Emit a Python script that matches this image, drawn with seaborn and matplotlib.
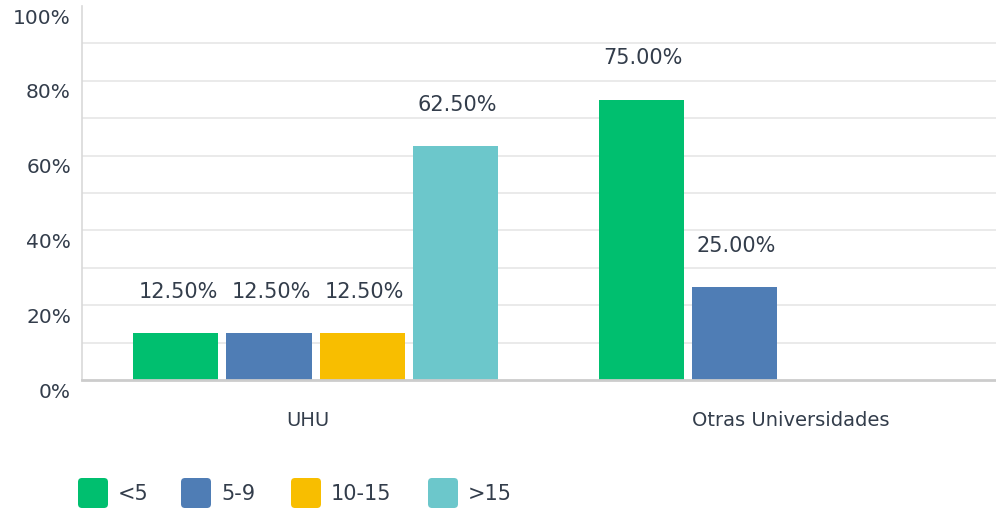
import matplotlib
matplotlib.use("Agg")
import matplotlib.pyplot as plt
import matplotlib.transforms as mtransforms
from matplotlib.patches import FancyBboxPatch
import seaborn as sns
import pandas as pd

categories = ["UHU", "UHU", "UHU", "UHU", "Otras Universidades", "Otras Universidades"]
groups = ["<5", "5-9", "10-15", ">15", "<5", "5-9"]
values = [12.5, 12.5, 12.5, 62.5, 75.0, 25.0]
hue_levels = ["<5", "5-9", "10-15", ">15"]
cat_levels = ["UHU", "Otras Universidades"]
colors = ["#00BF6F", "#4F7DB5", "#F8BE00", "#6CC7CB"]
yticks = [0, 20, 40, 60, 80, 100]
ytick_labels = ["0%", "20%", "40%", "60%", "80%", "100%"]

df = pd.DataFrame({"cat": categories, "grp": groups, "val": values})

sns.set_theme(style="white")
plt.rcParams["font.family"] = ["DejaVu Sans"]
text_color = "#333D4B"

W, H = 996, 512
fig = plt.figure(figsize=(W/100, H/100), dpi=100)
ax = fig.add_axes([82/W, (H-380)/H, (W-82)/W, 374/H])

sns.barplot(data=df, x="cat", y="val", hue="grp", order=cat_levels,
            hue_order=hue_levels, palette=colors, dodge=True, width=0.8,
            gap=0.086, saturation=1, legend=False, ax=ax, errorbar=None,
            linewidth=0)

ax.set_ylim(0, 100)
ax.set_xlim(-0.502, 1.463)
for y in range(10, 100, 10):
    ax.axhline(y, color="#E6E6E6", lw=1.2, zorder=0)
ax.set_yticks(yticks)
ax.set_yticklabels(ytick_labels, fontsize=14.5, color=text_color)
ax.set_xticks([0, 1])
ax.set_xticklabels(cat_levels, fontsize=14, color=text_color)
ax.tick_params(axis="x", length=0, pad=22)
ax.tick_params(axis="y", length=0, pad=8)
offset = mtransforms.ScaledTranslation(0, -10/100, fig.dpi_scale_trans)
for lbl in ax.get_yticklabels():
    lbl.set_transform(lbl.get_transform() + offset)
for lbl, dx in zip(ax.get_xticklabels(), [-8, 10]):
    lbl.set_transform(lbl.get_transform() + mtransforms.ScaledTranslation(dx/100, 0, fig.dpi_scale_trans))
ax.set_xlabel("")
ax.set_ylabel("")
for s in ["top", "right"]:
    ax.spines[s].set_visible(False)
ax.spines["left"].set_color("#D9D9D9")
ax.spines["left"].set_linewidth(1.2)
ax.spines["bottom"].set_color("#CCCCCC")
ax.spines["bottom"].set_linewidth(2)

for cont in ax.containers:
    for bar in cont:
        h = bar.get_height()
        if h and h > 0:
            ax.annotate(f"{h:.2f}%", (bar.get_x() + bar.get_width()/2, h),
                        xytext=(2, 41), textcoords="offset pixels",
                        ha="center", va="center", fontsize=15, color=text_color)

# legend (drawn in figure pixel coordinates)
sq_x = [78, 181, 291, 428]
for x0, c, lab in zip(sq_x, colors, hue_levels):
    p = FancyBboxPatch(((x0 + 3)/W, (H - 505)/H), 24/W, 24/H,
                       boxstyle=f"round,pad={3/W},rounding_size={4/W}",
                       transform=fig.transFigure, facecolor=c, edgecolor="none",
                       mutation_aspect=W/H)
    fig.patches.append(p)
    fig.text((x0 + 40)/W, (H - 494)/H, lab, fontsize=15, color=text_color,
             ha="left", va="center")

fig.savefig("out.png", dpi=100)
